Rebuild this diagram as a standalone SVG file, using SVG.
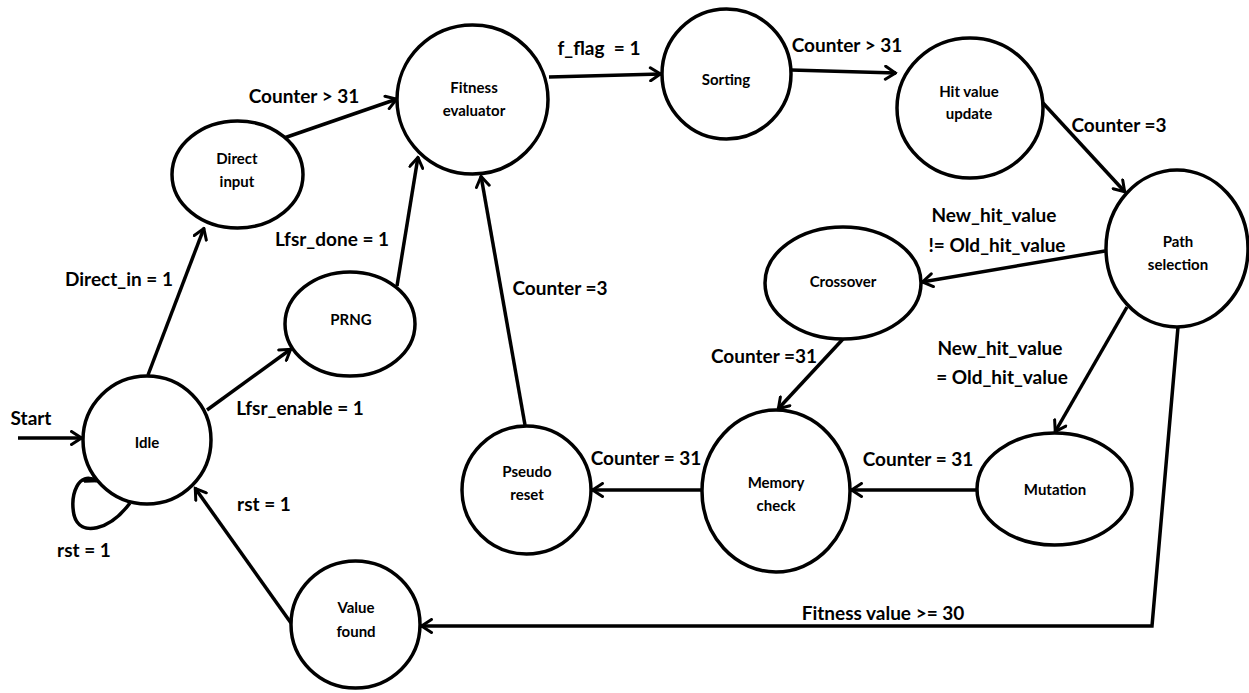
<svg xmlns="http://www.w3.org/2000/svg" width="1249" height="693" viewBox="0 0 1249 693">
  <style>
    .node { fill: #fff; stroke: #000; stroke-width: 3.5; }
    .nlabel { font-family: Lato, "Liberation Sans", sans-serif; font-weight: bold; font-size: 15px; text-anchor: middle; fill: #000; }
    .elabel { font-family: Lato, "Liberation Sans", sans-serif; font-weight: bold; font-size: 19px; text-anchor: middle; fill: #000; white-space: pre; }
    .edge { fill: none; stroke: #000; stroke-width: 3.5; marker-end: url(#arrow); }
  </style>
  <defs>
    <marker id="arrow" viewBox="0 0 14 16" refX="12.5" refY="8" markerWidth="14" markerHeight="16" markerUnits="userSpaceOnUse" orient="auto">
      <path d="M2,1.5 L12,8 L2,14.5" fill="none" stroke="#000" stroke-width="3" stroke-linecap="round" stroke-linejoin="miter"/>
    </marker>
  </defs>

  <rect width="1249" height="693" fill="#fff"/>

  <!-- transitions -->
  <g id="connectors">
    <line class="edge" x1="18" y1="438" x2="82" y2="438"/>
    <path class="edge" d="M130,503 C110,530 80,538 74,515 C70,495 78,470 97,481"/>
    <line class="edge" x1="148" y1="375" x2="204" y2="228"/>
    <line class="edge" x1="207" y1="410" x2="291" y2="349"/>
    <line class="edge" x1="284" y1="138" x2="397" y2="99"/>
    <line class="edge" x1="397" y1="286" x2="418" y2="157"/>
    <line class="edge" x1="525" y1="425" x2="481" y2="176"/>
    <line class="edge" x1="549" y1="77" x2="661" y2="74"/>
    <line class="edge" x1="791" y1="70" x2="896" y2="73"/>
    <line class="edge" x1="1043" y1="103" x2="1125" y2="192"/>
    <line class="edge" x1="1105" y1="251" x2="922" y2="282"/>
    <line class="edge" x1="1127" y1="307" x2="1055" y2="432"/>
    <line class="edge" x1="843" y1="339" x2="778" y2="409"/>
    <line class="edge" x1="977" y1="490" x2="851" y2="490"/>
    <line class="edge" x1="702" y1="490" x2="592" y2="490"/>
    <polyline class="edge" points="1178,327 1152,626 421,626"/>
    <line class="edge" x1="291" y1="623" x2="195" y2="488"/>
  </g>

  <!-- transition conditions -->
  <g id="edge-labels">
    <text class="elabel" x="31" y="425">Start</text>
    <text class="elabel" x="84" y="557">rst = 1</text>
    <text class="elabel" x="119" y="286">Direct_in = 1</text>
    <text class="elabel" x="300" y="415">Lfsr_enable = 1</text>
    <text class="elabel" x="332" y="246">Lfsr_done = 1</text>
    <text class="elabel" x="304" y="103">Counter &gt; 31</text>
    <text class="elabel" x="560" y="295">Counter =3</text>
    <text class="elabel" x="599" y="55">f_flag  = 1</text>
    <text class="elabel" x="847" y="52">Counter &gt; 31</text>
    <text class="elabel" x="1119" y="132">Counter =3</text>
    <text class="elabel" x="994" y="222">New_hit_value</text>
    <text class="elabel" x="997" y="252">!= Old_hit_value</text>
    <text class="elabel" x="1000" y="355">New_hit_value</text>
    <text class="elabel" x="1002" y="384">= Old_hit_value</text>
    <text class="elabel" x="764" y="363">Counter =31</text>
    <text class="elabel" x="918" y="466">Counter = 31</text>
    <text class="elabel" x="646" y="465">Counter = 31</text>
    <text class="elabel" x="264" y="511">rst = 1</text>
    <text class="elabel" x="883" y="620">Fitness value &gt;= 30</text>
  </g>

  <!-- states -->
  <g id="idle">
    <ellipse class="node" cx="147" cy="440" rx="64" ry="64"/>
    <text class="nlabel" x="147" y="448">Idle</text>
  </g>
  <g id="direct-input">
    <ellipse class="node" cx="237.5" cy="174.5" rx="65.5" ry="53.5"/>
    <text class="nlabel" x="237" y="164">Direct</text>
    <text class="nlabel" x="237" y="187">input</text>
  </g>
  <g id="prng">
    <ellipse class="node" cx="350" cy="324" rx="65" ry="52"/>
    <text class="nlabel" x="351" y="325">PRNG</text>
  </g>
  <g id="fitness-evaluator">
    <ellipse class="node" cx="472.5" cy="99.5" rx="75.5" ry="74.5"/>
    <text class="nlabel" x="474" y="93">Fitness</text>
    <text class="nlabel" x="474" y="116">evaluator</text>
  </g>
  <g id="sorting">
    <ellipse class="node" cx="726.5" cy="74" rx="64.5" ry="65"/>
    <text class="nlabel" x="726" y="85">Sorting</text>
  </g>
  <g id="hit-value-update">
    <ellipse class="node" cx="970" cy="108" rx="73" ry="70"/>
    <text class="nlabel" x="969" y="97">Hit value</text>
    <text class="nlabel" x="969" y="119">update</text>
  </g>
  <g id="path-selection">
    <ellipse class="node" cx="1177" cy="248.5" rx="71" ry="78.5"/>
    <text class="nlabel" x="1178" y="247">Path</text>
    <text class="nlabel" x="1178" y="270">selection</text>
  </g>
  <g id="crossover">
    <ellipse class="node" cx="843" cy="283" rx="78" ry="56"/>
    <text class="nlabel" x="843" y="287">Crossover</text>
  </g>
  <g id="mutation">
    <ellipse class="node" cx="1054.5" cy="489" rx="77.5" ry="56"/>
    <text class="nlabel" x="1055" y="495">Mutation</text>
  </g>
  <g id="memory-check">
    <ellipse class="node" cx="776" cy="491" rx="74" ry="81"/>
    <text class="nlabel" x="776" y="488">Memory</text>
    <text class="nlabel" x="776" y="511">check</text>
  </g>
  <g id="pseudo-reset">
    <ellipse class="node" cx="526.5" cy="490" rx="64.5" ry="64"/>
    <text class="nlabel" x="527" y="477">Pseudo</text>
    <text class="nlabel" x="527" y="500">reset</text>
  </g>
  <g id="value-found">
    <ellipse class="node" cx="355.5" cy="624.5" rx="64.5" ry="63.5"/>
    <text class="nlabel" x="356" y="613">Value</text>
    <text class="nlabel" x="356" y="637">found</text>
  </g>
</svg>
